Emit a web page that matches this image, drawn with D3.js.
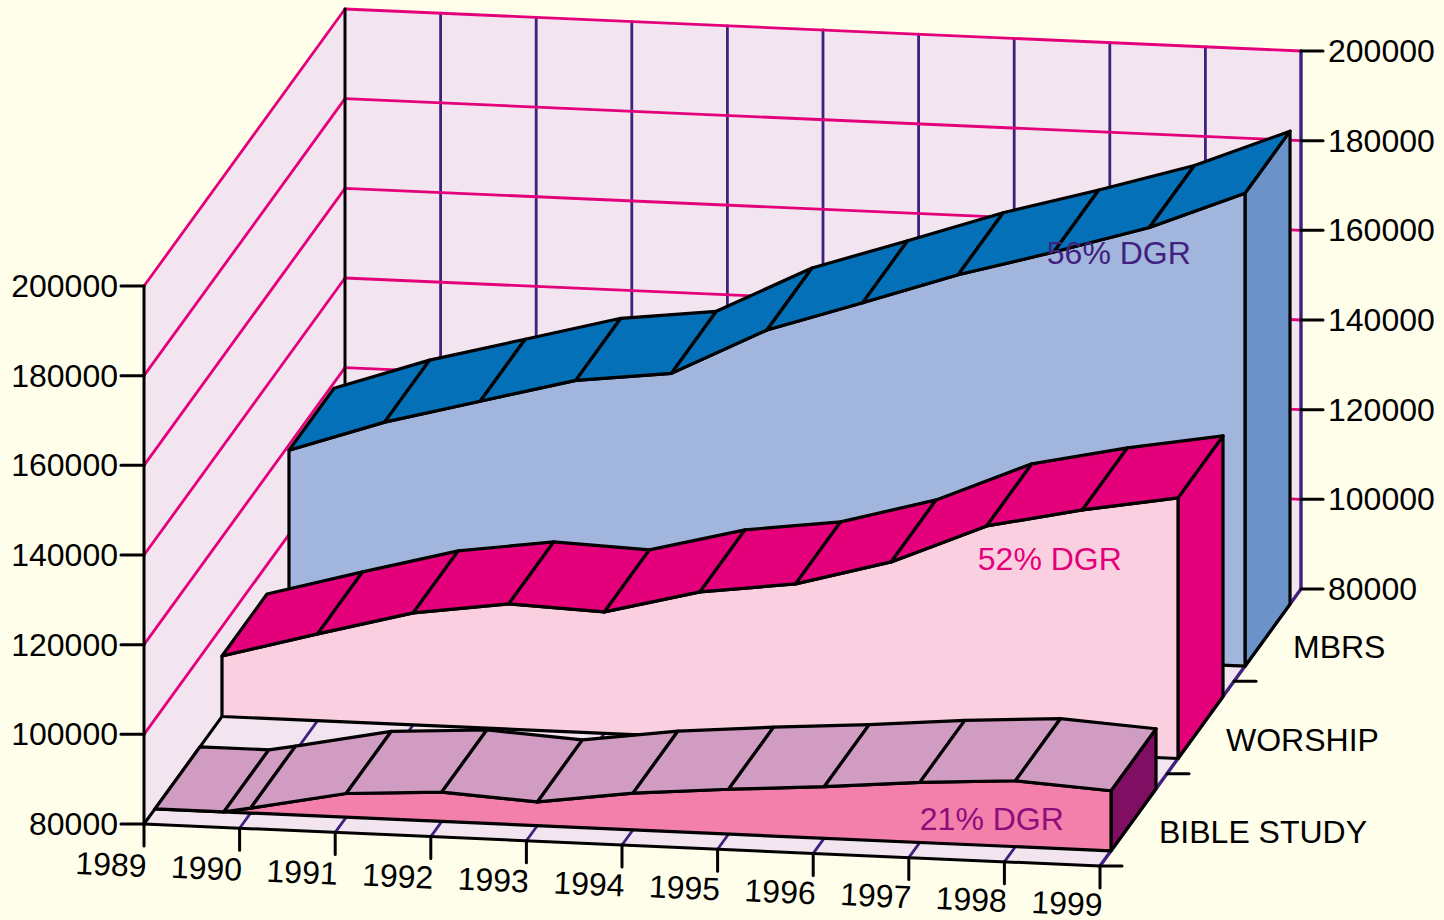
<!DOCTYPE html>
<html><head><meta charset="utf-8">
<script src="https://cdn.jsdelivr.net/npm/d3@7/dist/d3.min.js"></script>
<style>html,body{margin:0;padding:0;background:#fffeea;overflow:hidden}svg{display:block}text{font-family:"Liberation Sans",Arial,sans-serif}</style>
</head><body><svg id="c" width="1444" height="920"></svg>
<script>
const years=[1989,1990,1991,1992,1993,1994,1995,1996,1997,1998,1999];
const valueTicks=[80000,100000,120000,140000,160000,180000,200000];
const categories=["BIBLE STUDY","WORSHIP","MBRS"];
const mbrsValues=[118800,126000,131600,137200,139700,150300,157300,164500,170500,176900,185500];
const worshipValues=[93500,99360,104980,107930,107080,112480,115200,121040,130010,134510,138130];
// Bible study dips to the floor of the chart just before 1990
const bibleYears=[1989,1989.72,1990,1991,1992,1993,1994,1995,1996,1997,1998,1999];
const bibleValues=[80000,80000,81100,85300,86560,85290,88200,90000,91500,93400,94700,93400];
const dgrLabels=["21% DGR","52% DGR","56% DGR"];

const BG="#fffeea",WALL="#f2e5f0",MAG="#e4007a",PUR="#41207f",INK="#000";
const xS=d3.scaleLinear().domain([1989,1999]).range([144,1100]);
const slope=d3.scaleLinear().domain([1989,1999]).range([824,866]);
const yS=d3.scaleLinear().domain([80000,200000]).range([0,-538]);
const labelDrop=d3.scaleLinear().domain([1989,1999]).range([53,50]);
const band=d3.scaleBand().domain(categories).range([0,1]).paddingInner(.328).paddingOuter(.164);
const P=(yr,v,d)=>[xS(yr)+d*201, slope(yr)+yS(v)-d*277];
const svg=d3.select("#c");
svg.append("rect").attr("width",1444).attr("height",920).attr("fill",BG);
const poly=(pts,fill,stroke,w)=>svg.append("path").attr("d",d3.line()(pts)+"Z").attr("fill",fill)
  .attr("stroke",stroke||"none").attr("stroke-width",w||0).attr("stroke-linejoin","round");
const line=(a,b,c,w)=>svg.append("line").attr("x1",a[0]).attr("y1",a[1]).attr("x2",b[0]).attr("y2",b[1])
  .attr("stroke",c).attr("stroke-width",w).attr("stroke-linecap","round");
const [y0,y1]=[1989,1999],vMin=80000,vMax=200000;
// walls
poly([P(y0,vMin,0),P(y1,vMin,0),P(y1,vMin,1),P(y0,vMin,1)],WALL);
poly([P(y0,vMin,0),P(y0,vMax,0),P(y0,vMax,1),P(y0,vMin,1)],WALL);
poly([P(y0,vMin,1),P(y0,vMax,1),P(y1,vMax,1),P(y1,vMin,1)],WALL);
// year grid
years.forEach(y=>{
  if(y!==y0&&y!==y1) line(P(y,vMax,1),P(y,vMin,1),PUR,2.8);
  if(y!==y0) line(P(y,vMin,0),P(y,vMin,1),PUR,y===y1?3.4:2.8);
});
// value grid
valueTicks.forEach(v=>{
  if(v===vMin) return;
  line(P(y0,v,0),P(y0,v,1),MAG,2.8);
  line(P(y0,v,1),P(y1,v,1),MAG,2.8);
});
line(P(y1,vMax,1),P(y1,vMin,1),PUR,3.4);
line(P(y0,vMax,1),P(y0,vMin,1),INK,3);
line(P(y0,vMax,0),P(y0,vMin,0),INK,3);
line(P(y0,vMin,0),P(y0,vMin,1),INK,3);
line(P(y0,vMin,0),P(y1,vMin,0),INK,3);
// ticks and axis labels
const fs=32;
valueTicks.forEach(v=>{
  const l=P(y0,v,0),r=P(y1,v,1);
  line([l[0]-23,l[1]],l,INK,3);
  line(r,[r[0]+22,r[1]],INK,3);
  svg.append("text").attr("x",l[0]-26).attr("y",l[1]+11).attr("text-anchor","end").attr("font-size",fs).text(v);
  svg.append("text").attr("x",r[0]+27).attr("y",r[1]+11).attr("font-size",fs).text(v);
});
const tilt=Math.atan2(slope(y1)-slope(y0),xS(y1)-xS(y0))*180/Math.PI;
years.forEach(y=>{
  const p=P(y,vMin,0);
  line(p,[p[0],p[1]+22],INK,3);
  svg.append("text").attr("text-anchor","end").attr("font-size",fs)
    .attr("transform",`translate(${p[0]+2},${p[1]+labelDrop(y)}) rotate(${tilt})`).text(y);
});
categories.forEach((c,i)=>{
  const p=P(y1,vMin,i/categories.length);
  line(p,[p[0]+22,p[1]],INK,3);
  svg.append("text").attr("x",p[0]+59).attr("y",p[1]-23).attr("font-size",fs).text(c);
});
// ribbons
function ribbon(cat,ys,vs,face,top,side){
  const d0=band(cat),d1=d0+band.bandwidth(),n=ys.length-1,SW=3.2;
  poly([P(ys[n],vs[n],d0),P(ys[n],vs[n],d1),P(ys[n],vMin,d1),P(ys[n],vMin,d0)],side,INK,SW);
  const f=ys.map((y,i)=>P(y,vs[i],d0));
  poly(f.concat([P(ys[n],vMin,d0),P(ys[0],vMin,d0)]),face,INK,SW);
  for(let i=0;i<n;i++) poly([f[i],f[i+1],P(ys[i+1],vs[i+1],d1),P(ys[i],vs[i],d1)],top,INK,SW);
}
ribbon("MBRS",years,mbrsValues,"#a2b6dd","#0470b8","#6b93c9");
ribbon("WORSHIP",years,worshipValues,"#fad0e0","#e4007a","#e4007a");
ribbon("BIBLE STUDY",bibleYears,bibleValues,"#f280ab","#d09cc2","#800e62");
// DGR labels, anchored to the last-but-one year on each ribbon
const lab=(t,yr,v,cat,c,dx,dy)=>{const p=P(yr,v,band(cat));
  svg.append("text").attr("x",p[0]+dx).attr("y",p[1]+dy).attr("font-size",fs).attr("fill",c).text(t);};
lab(dgrLabels[2],1997,mbrsValues[8],"MBRS","#41207f",-7,12);
lab(dgrLabels[1],1997,worshipValues[8],"WORSHIP","#e4007a",-9,44);
lab(dgrLabels[0],1997,bibleValues[9],"BIBLE STUDY","#8f0d7b",0,48);
</script></body></html>
